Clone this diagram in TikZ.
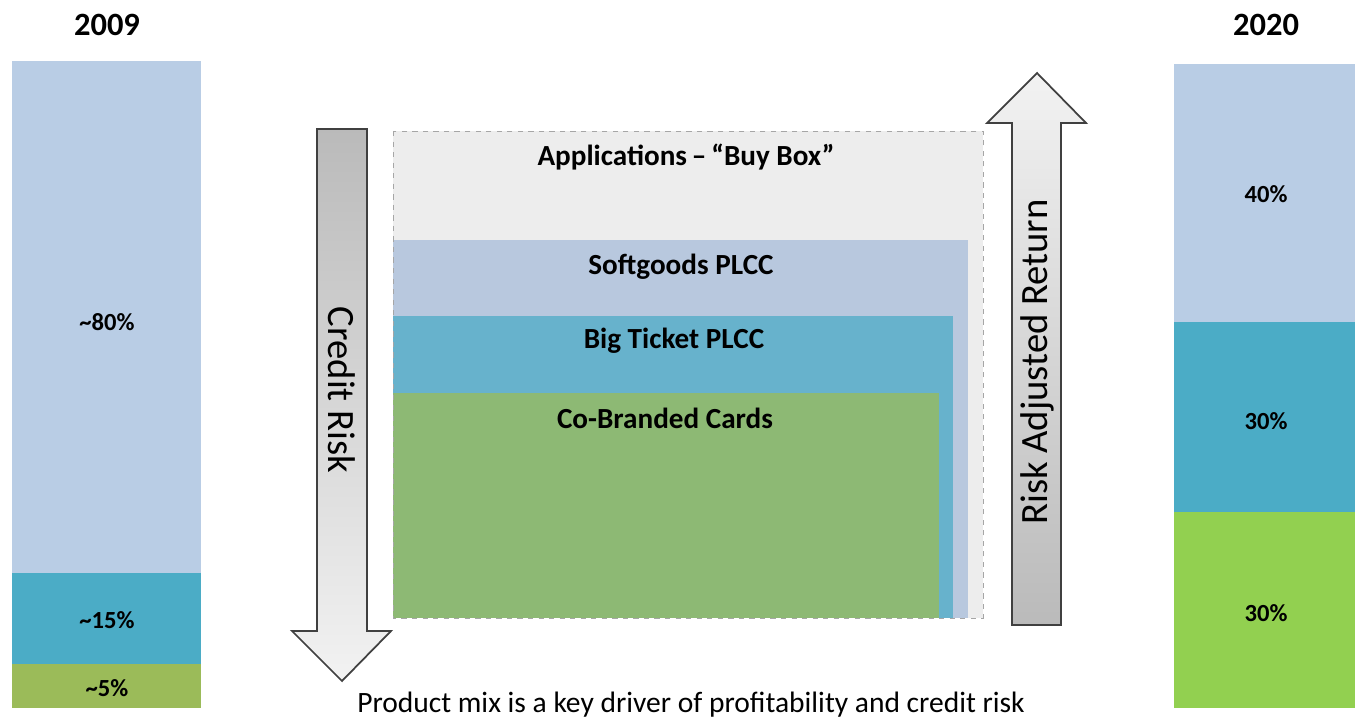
\documentclass[tikz,border=0pt]{standalone}
\usepackage{fontspec}
\setmainfont{Carlito}
\usetikzlibrary{shadings}
\definecolor{mixblue}{HTML}{B9CDE5}
\definecolor{mixteal}{HTML}{4BACC6}
\definecolor{oldgreen}{HTML}{9BBB59}
\definecolor{newgreen}{HTML}{92D050}
\definecolor{boxgray}{HTML}{EDEDED}
\definecolor{softblue}{HTML}{B8C8DE}
\definecolor{ticketteal}{HTML}{67B2CC}
\definecolor{cobrand}{HTML}{8DB974}
\tikzset{
  yearlbl/.style={font=\bfseries\fontsize{18.5}{22}\selectfont},
  pctlbl/.style={font=\bfseries\fontsize{14}{16}\selectfont}
}

\begin{document}
\begin{tikzpicture}[x=0.02cm, y=-0.02cm,
  % label of a tier in the buy box
  tier/.style   = {font=\bfseries\fontsize{16.6}{19}\selectfont},
  % big block arrow
  blockarrow/.style = {draw=black!75, line width=1pt, line join=miter},
  arrowtxt/.style   = {font=\fontsize{22}{26}\selectfont},
]
\useasboundingbox (0,0) rectangle (1355,719);

% ═══════════════════════════════
%  LEFT BAR – 2009 mix
% ═══════════════════
\fill[mixblue]  (12,61)  rectangle (201,573);
\fill[mixteal]  (12,573) rectangle (201,664);
\fill[oldgreen] (12,664) rectangle (201,708);

\node[yearlbl] (y09) at (107,25) {2009};
\node[pctlbl] (p80) at (107,322) {\textasciitilde80\%};
\node[pctlbl] (p15) at (107,620) {\textasciitilde15\%};
\node[pctlbl] (p05) at (107,688) {\textasciitilde5\%};

% ═══════════════════════════════
%  RIGHT BAR – 2020 mix
% ═══════════════════
\fill[mixblue]  (1174,64)  rectangle (1355,322);
\fill[mixteal]  (1174,322) rectangle (1355,512);
\fill[newgreen] (1174,512) rectangle (1355,708);

\node[yearlbl] (y20) at (1266,25) {2020};
\node[pctlbl] (p40) at (1266,194) {40\%};
\node[pctlbl] (p30a) at (1266,421) {30\%};
\node[pctlbl] (p30b) at (1266,613) {30\%};

% ═══════════════════════════════
%  BUY BOX – nested product tiers
% ═══════════════════
\fill[boxgray]    (393,131) rectangle (983,618);
\fill[softblue]   (393,240) rectangle (968,618);
\fill[ticketteal] (393,316) rectangle (953,618);
\fill[cobrand]    (393,393) rectangle (939,618);
\draw[gray!70, dashed, line width=0.5pt] (393,131) rectangle (983,618);

\node[tier] (apps) at (686,157) {Applications\,–\,“Buy Box”};
\node[tier] (soft) at (681,267) {Softgoods PLCC};
\node[tier] (big)  at (674,341) {Big Ticket PLCC};
\node[tier] (cob)  at (665,418) {Co-Branded Cards};

% ═══════════════════════════════
%  ARROWS – credit risk / risk adjusted return
% ═══════════════════
\draw[blockarrow, top color=black!27, bottom color=black!5]
  (317,129) -- (367,129) -- (367,631) -- (391,631) -- (342,681)
  -- (292,631) -- (317,631) -- cycle;
\node[arrowtxt, rotate=-90] (crisk) at (342,390) {Credit Risk};

\draw[blockarrow, top color=black!5, bottom color=black!27]
  (1037,73) -- (1086,123) -- (1061,123) -- (1061,625) -- (1012,625)
  -- (1012,123) -- (987,123) -- cycle;
\node[arrowtxt, rotate=90] (rar) at (1037,362) {Risk Adjusted Return};

% caption
\node[font=\fontsize{16.8}{20}\selectfont] (cap) at (691,705)
  {Product mix is a key driver of profitability and credit risk};

\end{tikzpicture}
\end{document}
